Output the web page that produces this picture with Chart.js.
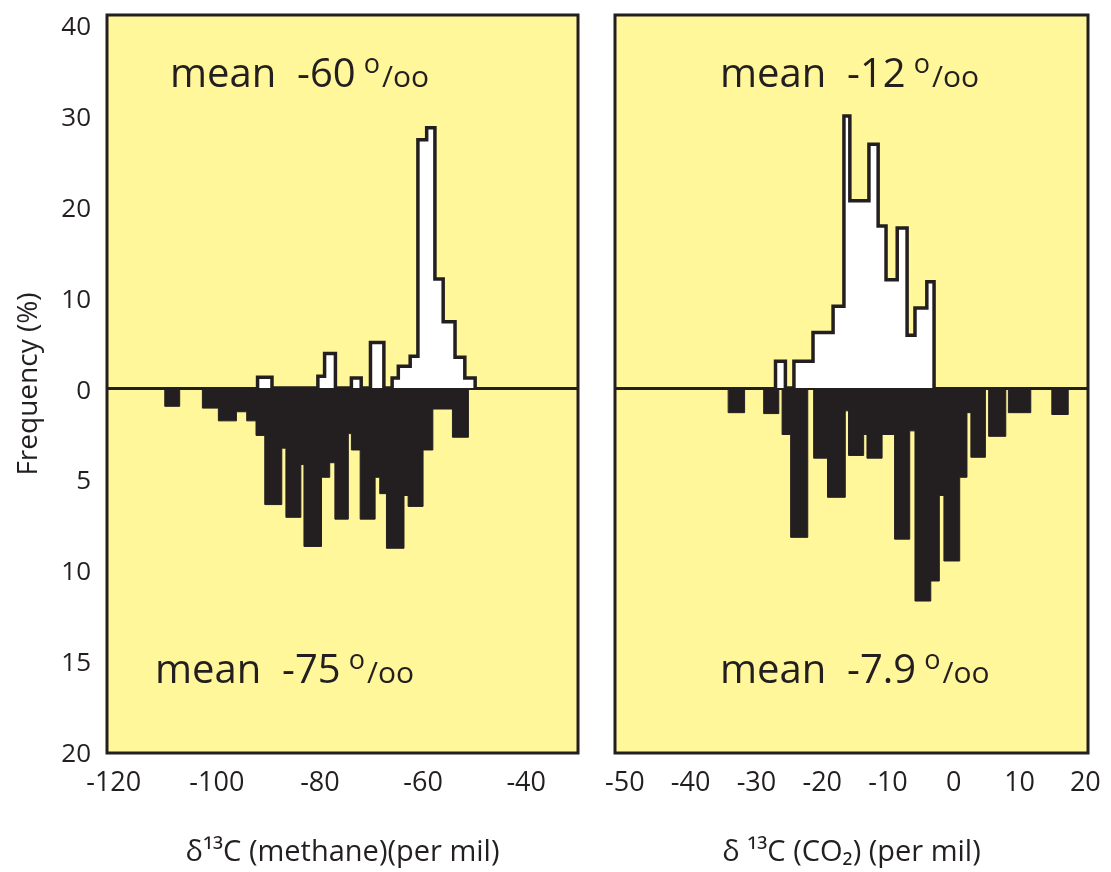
<!DOCTYPE html>
<html>
<head>
<meta charset="utf-8">
<title>δ13C frequency</title>
<script src="https://cdn.jsdelivr.net/npm/chart.js@4.4.1/dist/chart.umd.min.js"></script>
<style>
  html, body { margin: 0; padding: 0; background: #fff; }
  #wrap { position: relative; width: 1111px; height: 872px; }
  .panel { position: absolute; top: 0; height: 872px; }
  #left { left: 0; width: 590px; }
  #right { left: 590px; width: 521px; }
</style>
</head>
<body>
<div id="wrap">
  <div class="panel" id="left"><canvas id="methane"></canvas></div>
  <div class="panel" id="right"><canvas id="co2"></canvas></div>
</div>
<script>
// Two δ13C histograms side by side. Open bars above the zero line are one
// distribution (0–40 %), filled bars below are the other (0–20 %, drawn at
// twice the vertical scale so both halves use the same depth).

const INK = "#231f20";
const PAPER = "#fff799";
const FONT = "'Open Sans', 'DejaVu Sans', sans-serif";

// frequency tick labels (%) above and below the zero line
const freqTicksUp = [0, 10, 20, 30, 40];
const freqTicksDown = [5, 10, 15, 20];
const DOWN_SCALE = 2; // lower half stretched x2

// methane panel: bin edges (per mil) and frequency (%) per bin
const methaneTicks = [-120, -100, -80, -60, -40];
const methaneUpEdges = [-92.1, -89.3, -80.4, -79.1, -77.0, -73.9, -72.0, -70.2, -67.6,
  -66.0, -64.8, -62.5, -61.0, -59.3, -57.7, -56.1, -53.8, -51.9, -49.9];
const methaneUpFreq = [1.2, 0, 1.3, 3.8, 0, 1.1, 0, 5.0, 0,
  1.1, 2.4, 3.5, 27.3, 28.6, 12.0, 7.3, 3.4, 1.1];
const methaneDownEdges = [-110.1, -107.2, -102.8, -99.7, -96.2, -94.2, -92.4, -90.7, -87.4,
  -86.6, -83.7, -83.1, -79.7, -78.1, -77.1, -74.5, -73.9, -72.2, -69.3, -68.4, -67.1,
  -63.7, -62.9, -60.0, -58.1, -54.3, -51.2];
const methaneDownFreq = [1.0, 0, 1.1, 1.8, 1.3, 1.8, 2.6, 6.4, 3.3,
  7.1, 4.2, 8.7, 4.9, 4.1, 7.2, 2.5, 3.4, 7.2, 4.9, 5.8,
  8.8, 5.9, 6.5, 3.4, 1.15, 2.7];
const methaneMeans = ["-60", "-75"];

// CO2 panel
const co2Ticks = [-50, -40, -30, -20, -10, 0, 10, 20];
const co2UpEdges = [-27.1, -25.6, -24.3, -21.4, -18.35, -16.7, -15.8, -12.9, -11.5,
  -10.3, -8.6, -7.1, -5.9, -4.1, -3.0];
const co2UpFreq = [2.95, 0, 2.95, 6.1, 9.0, 29.9, 20.6, 26.8, 17.8,
  11.9, 17.6, 5.8, 8.8, 11.7];
const co2DownEdges = [-34.3, -31.8, -28.9, -26.6, -26.1, -24.8, -22.2, -21.3, -19.2, -16.5,
  -16.0, -13.7, -13.2, -10.9, -9.0, -6.7, -5.9, -3.5, -2.2, -1.5,
  0.9, 2.0, 2.6, 4.8, 5.3, 7.9, 8.3, 11.7, 14.9, 17.4];
const co2DownFreq = [1.35, 0, 1.4, 0, 2.55, 8.2, 0, 3.85, 6.0,
  1.25, 3.7, 2.55, 3.85, 2.55, 8.3, 2.35, 11.7, 10.6, 5.9,
  9.5, 4.9, 1.35, 3.8, 0, 2.65, 0, 1.35, 0, 1.45];
const co2Means = ["-12", "-7.9"];

// Outline of a histogram as points for a stepped line: each bin holds its
// value from its left edge to the next edge, closed down to zero at both ends.
function stepPoints(edges, freq, sign) {
  const pts = [{ x: edges[0], y: 0 }];
  freq.forEach((f, i) => pts.push({ x: edges[i], y: sign * f }));
  pts.push({ x: edges[edges.length - 1], y: 0 });
  return pts;
}

// Stop end labels from pushing the plot area in; the layout padding below
// already leaves room for them.
function noLabelPadding(s) {
  s.paddingTop = 0;
  s.paddingBottom = 0;
  s.paddingLeft = 0;
  s.paddingRight = 0;
}

// Yellow plot background under everything, dark frame over the bars.
const panelFrame = {
  id: "panelFrame",
  beforeDraw(chart) {
    const { ctx, chartArea: a } = chart;
    ctx.save();
    ctx.fillStyle = PAPER;
    ctx.fillRect(a.left, a.top, a.width, a.height);
    ctx.restore();
  },
  afterDatasetsDraw(chart) {
    const { ctx, chartArea: a } = chart;
    ctx.save();
    ctx.strokeStyle = INK;
    ctx.lineWidth = 3;
    ctx.strokeRect(a.left, a.top, a.width, a.height);
    ctx.restore();
  },
};

// "mean  x °/oo" notes, one above and one below the zero line.
const meanLabels = {
  id: "meanLabels",
  afterDatasetsDraw(chart, args, opts) {
    const { ctx, chartArea } = chart;
    ctx.save();
    ctx.fillStyle = INK;
    ctx.textBaseline = "alphabetic";
    ctx.textAlign = "left";
    opts.values.forEach((v, i) => {
      const [dx, dy] = opts.at[i];
      let x = chartArea.left + dx;
      const y = chartArea.top + dy;
      const main = `mean  ${v}`;
      ctx.font = `40px ${FONT}`;
      ctx.fillText(main, x, y);
      x += ctx.measureText(main).width + 8;
      ctx.font = `27px ${FONT}`;
      ctx.fillText("o", x, y - 14);
      x += ctx.measureText("o").width + 2;
      ctx.font = `30px ${FONT}`;
      ctx.fillText("/oo", x, y);
    });
    ctx.restore();
  },
};

function makePanel(canvasId, p) {
  return new Chart(document.getElementById(canvasId), {
    type: "line",
    data: {
      datasets: [
        {
          data: stepPoints(p.upEdges, p.upFreq, 1),
          stepped: true,
          fill: "origin",
          backgroundColor: "#ffffff",
          borderColor: INK,
          borderWidth: 3.5,
          pointRadius: 0,
        },
        {
          data: stepPoints(p.downEdges, p.downFreq, -DOWN_SCALE),
          stepped: true,
          fill: "origin",
          backgroundColor: INK,
          borderColor: INK,
          borderWidth: 1,
          pointRadius: 0,
        },
      ],
    },
    options: {
      responsive: true,
      maintainAspectRatio: false,
      animation: false,
      events: [],
      layout: { padding: p.padding },
      plugins: {
        legend: { display: false },
        tooltip: { enabled: false },
        meanLabels: { values: p.means, at: p.meanAt },
      },
      scales: {
        x: {
          type: "linear",
          min: p.xMin,
          max: p.xMax,
          afterBuildTicks: (s) => { s.ticks = p.xTicks.map((v) => ({ value: v })); },
          afterFit: (s) => { s.height = 119; noLabelPadding(s); },
          grid: { display: false, drawTicks: false },
          border: { display: false },
          ticks: {
            padding: 14,
            color: INK,
            maxRotation: 0,
            autoSkip: false,
            font: { family: FONT, size: 27 },
            callback: (v) => String(v),
          },
          title: {
            display: true,
            text: p.xTitle,
            color: INK,
            font: { family: FONT, size: 29 },
            padding: { top: 0, bottom: 2 },
          },
        },
        y: {
          type: "linear",
          min: -40.1,
          max: 41,
          afterBuildTicks: (s) => {
            s.ticks = freqTicksDown.map((v) => ({ value: -v * DOWN_SCALE })).reverse()
              .concat(freqTicksUp.map((v) => ({ value: v })));
          },
          afterFit: (s) => { s.width = p.yWidth; noLabelPadding(s); },
          grid: {
            drawTicks: false,
            lineWidth: 3,
            color: (c) => (c.tick && c.tick.value === 0 ? INK : "rgba(0,0,0,0)"),
          },
          border: { display: false },
          ticks: {
            display: p.showY,
            padding: 16,
            labelOffset: 3,
            color: INK,
            font: { family: FONT, size: 26 },
            callback: (v) => (v >= 0 ? v : -v / DOWN_SCALE),
          },
          title: {
            display: p.showY,
            text: "Frequency (%)",
            color: INK,
            font: { family: FONT, size: 28 },
            padding: { top: 12 },
          },
        },
      },
    },
    plugins: [panelFrame, meanLabels],
  });
}

makePanel("methane", {
  upEdges: methaneUpEdges, upFreq: methaneUpFreq,
  downEdges: methaneDownEdges, downFreq: methaneDownFreq,
  xTicks: methaneTicks, xMin: -121.3, xMax: -29.95,
  xTitle: "δ¹³C (methane)(per mil)",
  means: methaneMeans, meanAt: [[63, 72], [48, 668]],
  showY: true, yWidth: 107,
  padding: { left: 0, right: 12, top: 15, bottom: 0 },
});

makePanel("co2", {
  upEdges: co2UpEdges, upFreq: co2UpFreq,
  downEdges: co2DownEdges, downFreq: co2DownFreq,
  xTicks: co2Ticks, xMin: -51.5, xMax: 20.4,
  xTitle: "δ ¹³C (CO₂) (per mil)",
  means: co2Means, meanAt: [[105, 72], [105, 668]],
  showY: false, yWidth: 0,
  padding: { left: 25, right: 23, top: 15, bottom: 0 },
});
</script>
</body>
</html>
